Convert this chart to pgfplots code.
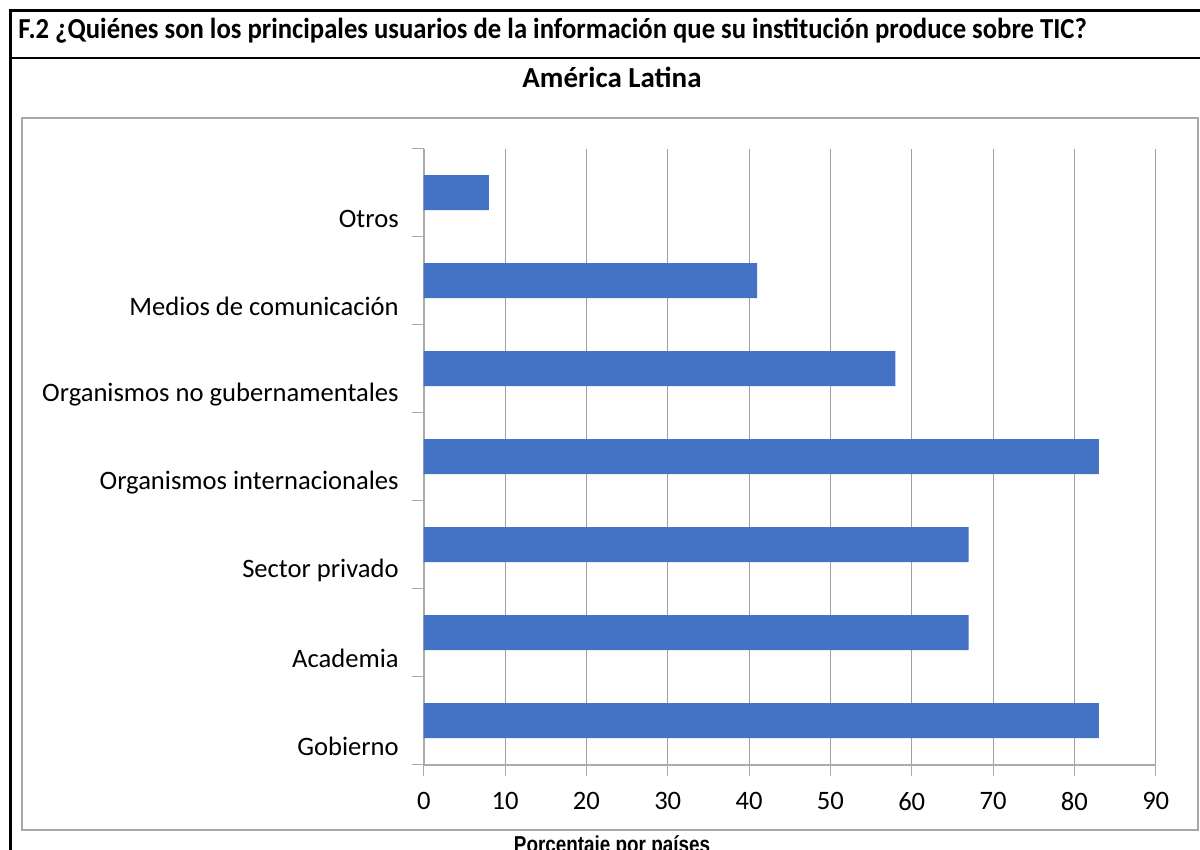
\documentclass[border=0pt]{standalone}
\usepackage{fontspec}
\setmainfont{Carlito}
\newfontfamily\titlefont[FakeStretch=0.92]{Carlito Bold}
\newfontfamily\narrowbold[FakeStretch=0.82]{Liberation Sans Bold}
\usepackage{pgfplots}
\pgfplotsset{compat=1.18}
\definecolor{barblue}{HTML}{4472C4}
\definecolor{gridgray}{HTML}{A0A0A0}
\definecolor{axisgray}{HTML}{ABABAB}
\definecolor{framegray}{HTML}{A8A8A8}
\begin{document}
\begin{tikzpicture}[x=0.5pt,y=0.5pt]
\useasboundingbox (0,0) rectangle (1200,850);
\clip (0,0) rectangle (1200,850);
% outer header frame
\draw[line width=1.5pt] (10,-5) -- (10,839) -- (1205,839);
\draw[line width=1.25pt] (10,792) -- (1205,792);
\node[anchor=base west, inner sep=0pt] at (18,811) {\titlefont\fontsize{14.5}{17}\selectfont F.2 ¿Quiénes son los principales usuarios de la información que su institución produce sobre TIC?};
% inner chart frame
\draw[framegray, line width=0.8pt] (22,20) rectangle (1198,732);
\node[anchor=base, inner sep=0pt] at (612,762) {\bfseries\fontsize{14.5}{17}\selectfont América Latina};
\node[anchor=base, inner sep=0pt] at (612,-3) {\narrowbold\fontsize{11.5}{13}\selectfont Porcentaje por países};
\begin{axis}[
  at={(521,97)}, anchor=south west,
  scale only axis, width=366pt, height=308pt,
  xbar, bar width=17.5pt,
  xmin=0, xmax=90, ymin=-0.5, ymax=6.5,
  xtick={0,10,...,90},
  ytick={0,...,6},
  yticklabels={Gobierno,Academia,Sector privado,Organismos internacionales,Organismos no gubernamentales,Medios de comunicación\ ,Otros},
  minor ytick={-0.5,0.5,...,6.5},
  axis x line*=bottom, axis y line*=left,
  axis line style={draw=axisgray, line width=1pt, -},
  xmajorgrids, grid style={gridgray, line width=0.5pt},
  tick align=outside,
  major tick length=5.5pt, minor tick length=6pt,
  major y tick style={draw=none},
  minor y tick style={draw=axisgray, line width=0.75pt},
  major x tick style={draw=axisgray, line width=0.5pt},
  /pgf/number format/assume math mode=true,
  tick label style={font=\fontsize{13.3}{15}\selectfont, text=black},
  yticklabel style={yshift=-13pt, xshift=-3.5pt},
  xticklabel style={yshift=-5pt},
]
\addplot[fill=barblue, draw=none] coordinates {(83,0) (67,1) (67,2) (83,3) (58,4) (41,5) (8,6)};
\end{axis}
\end{tikzpicture}
\end{document}
